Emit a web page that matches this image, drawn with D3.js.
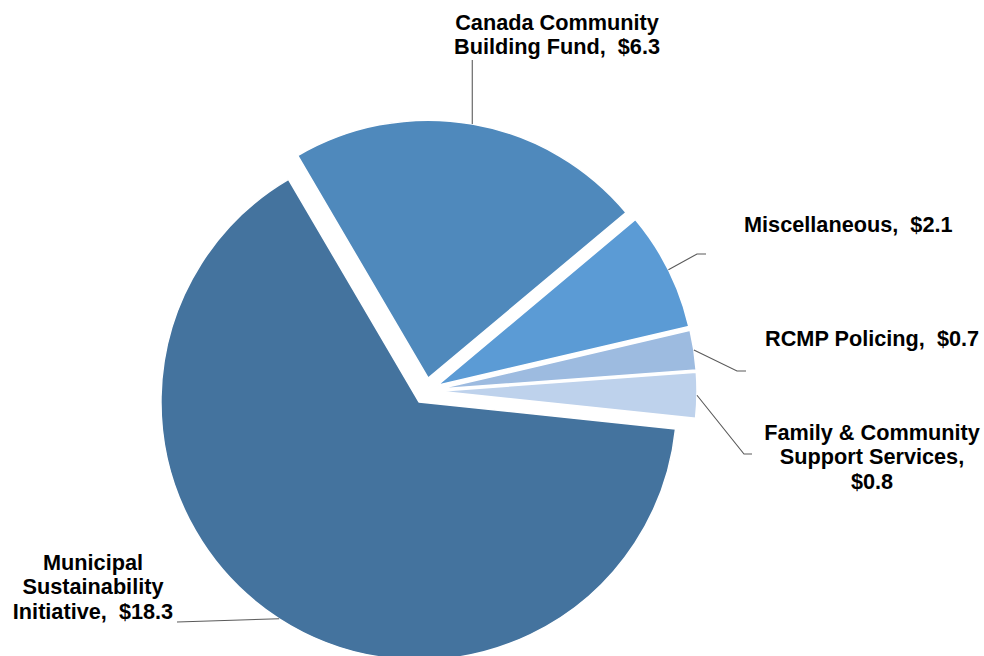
<!DOCTYPE html>
<html>
<head>
<meta charset="utf-8">
<script src="https://cdn.jsdelivr.net/npm/d3@7"></script>
<style>
  html, body { margin: 0; padding: 0; background: #ffffff; }
  svg { display: block; }
  text { font-family: "Liberation Sans", Arial, sans-serif; font-weight: bold; white-space: pre; }
</style>
</head>
<body>
<svg id="chart" width="984" height="656"></svg>
<script>
// Funding sources ($ millions)
const categories = [
  "Municipal Sustainability Initiative",
  "Canada Community Building Fund",
  "Miscellaneous",
  "RCMP Policing",
  "Family & Community Support Services"
];
const values = [18.3, 6.3, 2.1, 0.7, 0.8];
const labelLines = [
  ["Municipal", "Sustainability", "Initiative,  $18.3"],
  ["Canada Community", "Building Fund,  $6.3"],
  ["Miscellaneous,  $2.1"],
  ["RCMP Policing,  $0.7"],
  ["Family & Community", "Support Services,", "$0.8"]
];
const colors = ["#44739e", "#4f89bc", "#5b9bd5", "#9dbbe0", "#bed2ec"];

// Layout
const W = 984, H = 656;
const cx = 426, cy = 391, radius = 258, explode = 13;
const startDeg = 96;
const fontSize = 21.7, lineHeight = 24.3;

// Label placement: text anchor point, alignment, and leader path bends
const labelLayout = [
  { x: 93,  y: 570, anchor: "middle", bends: [[177, 622]] },
  { x: 557, y: 29.5, anchor: "middle", bends: [["same", 60]] },
  { x: 744, y: 232, anchor: "start", bends: [[697, 254], [706, 254]] },
  { x: 765, y: 346, anchor: "start", bends: [[737, 371], [746, 371]] },
  { x: 872, y: 440, anchor: "middle", bends: [[744, 454], [752, 454]] }
];

const svg = d3.select("#chart");

const pie = d3.pie()
  .sort(null)
  .value(d => d)
  .startAngle(startDeg * Math.PI / 180)
  .endAngle(startDeg * Math.PI / 180 + 2 * Math.PI);

const arcs = pie(values);
const arc = d3.arc().innerRadius(0).outerRadius(radius);

const g = svg.append("g").attr("transform", `translate(${cx},${cy})`);

// Each slice is pushed outward along its bisector
function offset(d) {
  const mid = (d.startAngle + d.endAngle) / 2;
  return [explode * Math.sin(mid), -explode * Math.cos(mid)];
}

g.selectAll("path.slice")
  .data(arcs)
  .join("path")
  .attr("class", "slice")
  .attr("d", arc)
  .attr("transform", d => { const o = offset(d); return `translate(${o[0]},${o[1]})`; })
  .attr("fill", (d, i) => colors[i])
  .attr("stroke", "#ffffff")
  .attr("stroke-width", 1.5)
  .attr("stroke-linejoin", "round");

// Leader lines from the outer edge at each slice's bisector
const line = d3.line();
arcs.forEach((d, i) => {
  const mid = (d.startAngle + d.endAngle) / 2;
  const o = offset(d);
  const px = cx + o[0] + radius * Math.sin(mid);
  const py = cy + o[1] - radius * Math.cos(mid);
  const pts = [[px, py]].concat(labelLayout[i].bends.map(b => [b[0] === "same" ? px : b[0], b[1]]));
  svg.append("path")
    .attr("d", line(pts))
    .attr("fill", "none")
    .attr("stroke", "#5a5a5a")
    .attr("stroke-width", 1.1);
});

// Data labels
labelLines.forEach((lines, i) => {
  const L = labelLayout[i];
  const t = svg.append("text")
    .attr("x", L.x)
    .attr("y", L.y)
    .attr("text-anchor", L.anchor)
    .attr("font-size", fontSize)
    .attr("fill", "#000000");
  lines.forEach((s, k) => {
    t.append("tspan")
      .attr("x", L.x)
      .attr("dy", k === 0 ? 0 : lineHeight)
      .text(s);
  });
});
</script>
</body>
</html>
